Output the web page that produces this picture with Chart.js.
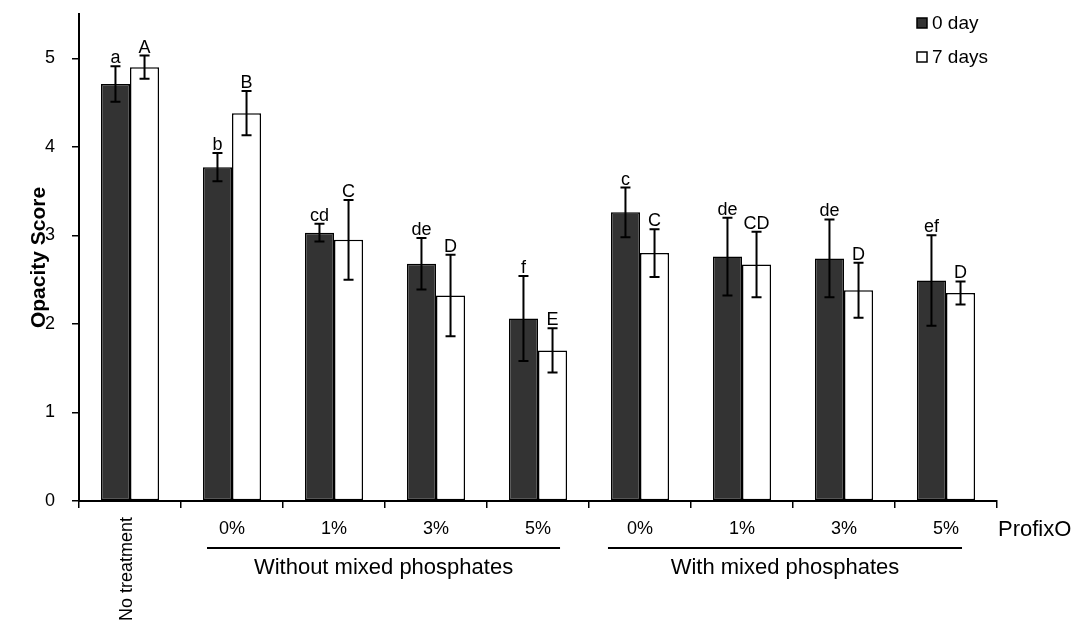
<!DOCTYPE html>
<html lang="en">
<head>
    <meta charset="UTF-8">
    <title>Opacity Score</title>
    <style>
        body { margin: 0; background: #fff; }
        #chart-container { width: 1075px; height: 626px; position: relative; }
    </style>
</head>
<body>
    <div id="chart-container">
        <canvas id="bar-chart"></canvas>
    </div>

    <script src="https://cdn.jsdelivr.net/npm/chart.js"></script>
    <script>
        // data
        const categories = ["No treatment", "0%", "1%", "3%", "5%", "0%", "1%", "3%", "5%"];
        const xTickLabels = ["", "0%", "1%", "3%", "5%", "0%", "1%", "3%", "5%"];
        const seriesNames = ["0 day", "7 days"];
        const day0 = [4.71, 3.77, 3.03, 2.68, 2.06, 3.26, 2.76, 2.74, 2.49];
        const day0Err = [0.20, 0.16, 0.10, 0.29, 0.48, 0.28, 0.44, 0.44, 0.51];
        const day7 = [4.90, 4.38, 2.95, 2.32, 1.70, 2.80, 2.67, 2.38, 2.35];
        const day7Err = [0.13, 0.25, 0.45, 0.46, 0.25, 0.27, 0.37, 0.31, 0.13];
        const letters0 = ["a", "b", "cd", "de", "f", "c", "de", "de", "ef"];
        const letters7 = ["A", "B", "C", "D", "E", "C", "CD", "D", "D"];
        const groupNames = ["Without mixed phosphates", "With mixed phosphates"];
        const groupSpans = [[0.755, 4.216], [4.686, 8.157]];
        const yTicks = [0, 1, 2, 3, 4, 5];

        const FONT = "'Liberation Sans', Arial, sans-serif";

        const extras = {
            id: "extras",
            afterDatasetsDraw(chart) {
                const ctx = chart.ctx;
                const x = chart.scales.x;
                const y = chart.scales.y;
                const errs = [day0Err, day7Err];
                const letters = [letters0, letters7];

                // error bars + letters
                ctx.save();
                ctx.strokeStyle = "#000";
                ctx.lineWidth = 2;
                ctx.fillStyle = "#000";
                ctx.font = "18px " + FONT;
                ctx.textAlign = "center";
                ctx.textBaseline = "alphabetic";
                chart.data.datasets.forEach((ds, d) => {
                    chart.getDatasetMeta(d).data.forEach((bar, i) => {
                        const v = ds.data[i];
                        const top = y.getPixelForValue(v + errs[d][i]);
                        const bot = y.getPixelForValue(v - errs[d][i]);
                        ctx.beginPath();
                        ctx.moveTo(bar.x, top); ctx.lineTo(bar.x, bot);
                        ctx.moveTo(bar.x - 5, top); ctx.lineTo(bar.x + 5, top);
                        ctx.moveTo(bar.x - 5, bot); ctx.lineTo(bar.x + 5, bot);
                        ctx.stroke();
                        ctx.fillText(letters[d][i], bar.x, top - 3);
                    });
                });
                ctx.restore();

                // rotated first label, group lines and names
                ctx.save();
                ctx.fillStyle = "#000";
                ctx.font = "18px " + FONT;
                ctx.translate(x.getPixelForValue(0) - 3, 517);
                ctx.rotate(-Math.PI / 2);
                ctx.textAlign = "right";
                ctx.textBaseline = "middle";
                ctx.fillText(categories[0], 0, 0);
                ctx.restore();

                ctx.save();
                ctx.strokeStyle = "#000";
                ctx.fillStyle = "#000";
                ctx.lineWidth = 2;
                ctx.font = "22px " + FONT;
                ctx.textAlign = "center";
                ctx.textBaseline = "alphabetic";
                groupSpans.forEach((span, g) => {
                    const x1 = x.getPixelForValue(span[0]);
                    const x2 = x.getPixelForValue(span[1]);
                    ctx.beginPath();
                    ctx.moveTo(x1, 548); ctx.lineTo(x2, 548);
                    ctx.stroke();
                    ctx.fillText(groupNames[g], (x1 + x2) / 2, 574);
                });
                ctx.font = "22px " + FONT;
                ctx.textAlign = "left";
                ctx.fillText("ProfixO", x.right + 1, 536);

                // legend
                ctx.font = "19px " + FONT;
                ctx.textBaseline = "middle";
                ctx.lineWidth = 1.5;
                chart.data.datasets.forEach((ds, d) => {
                    const ly = 18 + d * 34;
                    ctx.fillStyle = ds.backgroundColor;
                    ctx.fillRect(917, ly, 10, 10);
                    ctx.strokeRect(917, ly, 10, 10);
                    ctx.fillStyle = "#000";
                    ctx.fillText(ds.label, 932, ly + 6);
                });
                ctx.restore();
            }
        };

        new Chart(document.getElementById("bar-chart"), {
            type: "bar",
            data: {
                labels: categories,
                datasets: [
                    {
                        label: seriesNames[0],
                        data: day0,
                        backgroundColor: "#333333",
                        borderColor: "#000",
                        borderWidth: 1.5,
                        borderSkipped: false
                    },
                    {
                        label: seriesNames[1],
                        data: day7,
                        backgroundColor: "#ffffff",
                        borderColor: "#000",
                        borderWidth: 1.5,
                        borderSkipped: false
                    }
                ]
            },
            options: {
                responsive: true,
                maintainAspectRatio: false,
                animation: false,
                categoryPercentage: 0.57,
                barPercentage: 1.0,
                layout: { padding: { top: 14, right: 78, left: 0, bottom: 0 } },
                plugins: { legend: { display: false }, tooltip: { enabled: false } },
                scales: {
                    x: {
                        afterFit: (s) => { s.height = 125; },
                        grid: { display: true, drawOnChartArea: false, drawTicks: true, tickLength: 7, color: "#000", lineWidth: 1.5 },
                        border: { display: true, color: "#000", width: 2 },
                        ticks: {
                            autoSkip: false,
                            maxRotation: 0,
                            padding: 10,
                            color: "#000",
                            font: { family: FONT, size: 18 },
                            callback: (v, i) => xTickLabels[i]
                        }
                    },
                    y: {
                        min: 0,
                        max: 5.5,
                        afterFit: (s) => { s.width = 79; s.paddingTop = 0; s.paddingBottom = 0; },
                        afterBuildTicks: (s) => { s.ticks = yTicks.map(v => ({ value: v })); },
                        grid: { display: true, drawOnChartArea: false, drawTicks: true, tickLength: 7, color: "#000", lineWidth: 1.5 },
                        border: { display: true, color: "#000", width: 2 },
                        ticks: {
                            padding: 17,
                            color: "#000",
                            font: { family: FONT, size: 18 }
                        },
                        title: {
                            display: true,
                            text: "Opacity Score",
                            color: "#000",
                            font: { family: FONT, size: 21, weight: "bold" },
                            padding: { top: 27, bottom: 0 }
                        }
                    }
                }
            },
            plugins: [extras]
        });
    </script>
</body>
</html>
